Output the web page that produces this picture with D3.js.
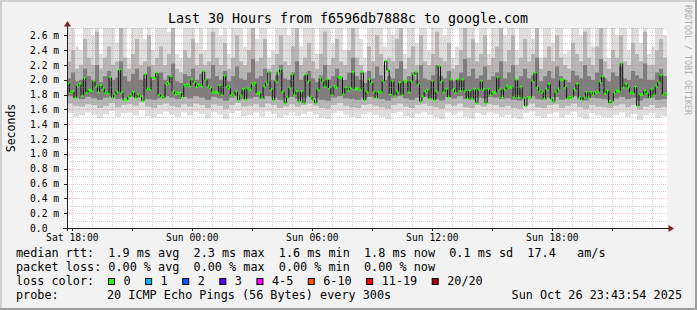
<!DOCTYPE html>
<html>
<head>
<meta charset="utf-8">
<script src="https://cdn.jsdelivr.net/npm/d3@7"></script>
<style>
body { margin: 0; background: #f2f2f2; }
svg text { font-family: 'DejaVu Sans Mono', monospace; white-space: pre; }
</style>
</head>
<body>
<svg id="chart" width="697" height="310"></svg>
<script>
const title = 'Last 30 Hours from f6596db7888c to google.com'
const yLabel = 'Seconds'
const watermark = 'RRDTOOL / TOBI OETIKER'
const timeStart = Date.UTC(2025, 9, 25, 17, 43, 54)
const timeEnd = Date.UTC(2025, 9, 26, 23, 43, 54)
const yTicks = [0.0, 0.2, 0.4, 0.6, 0.8, 1.0, 1.2, 1.4, 1.6, 1.8, 2.0, 2.2, 2.4, 2.6]

// median rtt in ms, one value per step
const medianRtt = [
    1.95, 1.83, 1.84, 1.76, 1.92, 1.94, 1.79, 2.02, 1.83, 1.86, 1.86, 1.98, 1.91, 1.84, 1.92, 1.88, 1.83, 1.82, 2.03, 1.76,
    1.80, 1.84, 2.13, 1.83, 1.73, 1.73, 1.77, 1.79, 1.83, 1.76, 1.80, 1.77, 1.72, 2.07, 1.88, 1.87, 2.03, 2.03, 2.09, 1.80,
    1.77, 1.76, 1.94, 1.96, 2.04, 1.84, 1.81, 1.82, 1.82, 1.77, 1.92, 1.93, 1.92, 2.00, 1.96, 1.91, 1.93, 1.92, 2.11, 2.00,
    1.91, 1.89, 1.84, 1.83, 1.83, 1.92, 1.80, 2.05, 1.91, 1.89, 1.80, 1.79, 1.84, 1.73, 1.79, 1.87, 1.74, 1.88, 1.87, 1.94,
    1.95, 1.82, 1.82,
    1.76, 1.91, 1.96, 2.10, 1.87, 1.73, 1.98, 2.10, 2.14, 1.84, 1.69, 1.76, 1.89, 2.07, 1.80, 1.84, 1.71, 1.84, 1.69, 2.07,
    1.98, 1.77, 1.73, 1.69, 1.87, 2.02, 1.98, 1.91, 2.00, 1.89, 1.80, 1.91, 1.90, 2.03, 2.03, 1.81, 1.89, 1.86, 1.89, 2.10,
    1.88, 1.88, 1.87, 2.10, 1.73, 1.84, 2.00, 1.96, 1.84, 1.76, 1.83, 1.84, 1.98, 2.25, 2.13, 1.81, 1.98, 1.79, 1.84, 1.96,
    1.80, 1.98, 1.98, 1.84, 1.98, 2.07, 2.10, 1.94, 1.71, 1.77, 1.84, 1.86, 1.75, 1.98, 1.73, 1.84, 2.18, 1.98, 1.84,
    1.87, 1.77, 2.00, 1.87, 1.83, 2.00, 1.86, 2.00, 1.85, 1.75, 1.85, 1.75, 1.87, 1.69, 1.87, 1.98, 1.87, 1.69, 1.87, 1.80,
    1.83, 1.83, 2.03, 1.87, 1.77, 1.87, 1.91, 1.90, 1.90, 1.77, 2.00, 1.77, 1.90, 1.75, 1.65, 1.76, 1.76, 1.98, 2.09, 1.90,
    1.85, 1.83, 1.75, 1.87, 1.94, 1.74, 1.71, 1.83, 1.87, 2.00, 2.00, 1.90, 1.75, 1.76, 1.77, 1.87, 1.94, 1.76, 1.73, 1.77,
    1.83, 1.76, 1.83, 1.80, 1.83, 1.84, 1.97, 2.04, 1.82, 1.85, 1.69, 1.71, 1.82, 1.85, 1.85, 2.22, 1.90, 1.94, 1.90, 1.83,
    1.82, 1.90, 1.65, 1.80, 1.80, 1.85, 1.82, 1.76, 1.87, 1.80, 1.91, 1.97, 2.06, 1.80, 1.81
]

// smoke above the median: slowest pings
const smokeMax = [
    2.75, 2.75, 2.45, 2.4, 2.75, 2.75, 2.6, 2.75, 2.35, 2.75, 2.75, 2.75, 2.5, 2.75, 2.75, 2.3, 2.75, 2.75, 2.75, 2.55,
    2.75, 2.4, 2.75, 2.75, 2.75, 2.65, 2.75, 2.35, 2.3, 2.75, 2.75, 2.75, 2.5, 2.75, 2.4, 2.75, 2.75, 2.75, 2.6, 2.75,
    2.35, 2.75, 2.75, 2.75, 2.45, 2.75, 2.75, 2.55, 2.75, 2.75, 2.3, 2.4, 2.75, 2.75, 2.75, 2.6, 2.75, 2.75, 2.45, 2.75,
    2.75, 2.75, 2.35, 2.75, 2.75, 2.75, 2.5, 2.75, 2.75, 2.4, 2.75, 2.75, 2.75, 2.55, 2.3, 2.75, 2.75, 2.75, 2.75, 2.45,
    2.75, 2.6, 2.75, 2.75, 2.35, 2.75, 2.75, 2.5, 2.75, 2.75, 2.4, 2.75, 2.75, 2.75, 2.6, 2.75, 2.3, 2.45, 2.75, 2.75,
    2.75, 2.75, 2.5, 2.75, 2.75, 2.35, 2.75, 2.75, 2.75, 2.6, 2.75, 2.75, 2.4, 2.75, 2.75, 2.75, 2.55, 2.75, 2.3, 2.75,
    2.75, 2.5, 2.75, 2.75, 2.35, 2.4, 2.75, 2.75, 2.6, 2.75, 2.75, 2.45, 2.75, 2.75, 2.75, 2.3, 2.75, 2.6, 2.75, 2.75,
    2.4, 2.75, 2.75, 2.5, 2.75, 2.35, 2.45, 2.75, 2.75, 2.6
]
const smokeP90 = [
    2.25, 2.4, 2.15, 2.2, 2.55, 2.3, 2.2, 2.65, 2.15, 2.3, 2.45, 2.2, 2.25, 2.7, 2.3, 2.15, 2.35, 2.55, 2.2, 2.25,
    2.6, 2.2, 2.3, 2.45, 2.2, 2.35, 2.7, 2.15, 2.1, 2.4, 2.3, 2.55, 2.2, 2.35, 2.2, 2.25, 2.65, 2.3, 2.2, 2.5,
    2.15, 2.3, 2.6, 2.25, 2.2, 2.4, 2.7, 2.25, 2.3, 2.55, 2.15, 2.2, 2.35, 2.6, 2.25, 2.2, 2.45, 2.7, 2.2, 2.3,
    2.5, 2.25, 2.15, 2.35, 2.65, 2.2, 2.3, 2.55, 2.25, 2.2, 2.4, 2.7, 2.3, 2.2, 2.1, 2.45, 2.25, 2.6, 2.35, 2.2,
    2.3, 2.25, 2.55, 2.7, 2.15, 2.3, 2.45, 2.2, 2.6, 2.25, 2.2, 2.35, 2.65, 2.3, 2.25, 2.5, 2.15, 2.2, 2.4, 2.7,
    2.3, 2.55, 2.25, 2.35, 2.6, 2.2, 2.3, 2.45, 2.7, 2.25, 2.4, 2.6, 2.2, 2.3, 2.55, 2.25, 2.35, 2.7, 2.15, 2.3,
    2.45, 2.25, 2.6, 2.3, 2.2, 2.15, 2.5, 2.35, 2.25, 2.65, 2.3, 2.2, 2.45, 2.7, 2.25, 2.15, 2.4, 2.3, 2.6, 2.25,
    2.2, 2.5, 2.35, 2.25, 2.65, 2.2, 2.2, 2.4, 2.55, 2.3
]
const smokeP75 = [
    2.02, 2.1, 1.98, 2.0, 2.15, 2.05, 2.0, 2.2, 1.97, 2.05, 2.12, 2.0, 2.03, 2.25, 2.05, 1.98, 2.08, 2.15, 2.0, 2.02,
    2.18, 2.0, 2.05, 2.1, 2.0, 2.06, 2.22, 1.98, 1.96, 2.08, 2.05, 2.15, 2.0, 2.08, 2.0, 2.02, 2.2, 2.05, 2.0, 2.12,
    1.98, 2.05, 2.18, 2.02, 2.0, 2.1, 2.28, 2.02, 2.05, 2.15, 1.97, 2.0, 2.06, 2.2, 2.02, 2.0, 2.1, 2.25, 2.0, 2.05,
    2.12, 2.02, 1.97, 2.06, 2.2, 2.0, 2.05, 2.15, 2.02, 2.0, 2.1, 2.3, 2.05, 2.0, 1.96, 2.12, 2.02, 2.18, 2.06, 2.0,
    2.05, 2.02, 2.15, 2.25, 1.98, 2.05, 2.1, 2.0, 2.2, 2.02, 2.0, 2.06, 2.2, 2.05, 2.02, 2.12, 1.98, 2.0, 2.1, 2.28,
    2.05, 2.15, 2.02, 2.06, 2.18, 2.0, 2.05, 2.1, 2.25, 2.02, 2.1, 2.2, 2.0, 2.05, 2.15, 2.02, 2.06, 2.3, 1.98, 2.05,
    2.12, 2.02, 2.18, 2.05, 2.0, 1.97, 2.12, 2.06, 2.02, 2.2, 2.05, 2.0, 2.1, 2.28, 2.02, 1.98, 2.1, 2.05, 2.18, 2.02,
    2.0, 2.12, 2.06, 2.02, 2.22, 2.0, 2.0, 2.1, 2.15, 2.05
]
// smoke below the median: fastest pings
const smokeP25 = [
    1.78, 1.76, 1.74, 1.77, 1.75, 1.73, 1.76, 1.78, 1.74, 1.76, 1.77, 1.76, 1.79, 1.74, 1.73, 1.75, 1.78, 1.76, 1.74, 1.77,
    1.75, 1.78, 1.76, 1.73, 1.77, 1.75, 1.72, 1.76, 1.78, 1.74, 1.75, 1.77, 1.74, 1.78, 1.76, 1.73, 1.75, 1.77, 1.74, 1.76,
    1.78, 1.75, 1.73, 1.72, 1.76, 1.78, 1.75, 1.74, 1.73, 1.76, 1.77, 1.75, 1.74, 1.72, 1.76, 1.78, 1.75, 1.73, 1.76, 1.77,
    1.75, 1.74, 1.72, 1.77, 1.75, 1.78, 1.74, 1.73, 1.76, 1.75, 1.77, 1.76, 1.74, 1.75, 1.73, 1.72, 1.76, 1.78, 1.74, 1.73,
    1.76, 1.77, 1.73, 1.75, 1.78, 1.74, 1.72, 1.76, 1.75, 1.74, 1.73, 1.75, 1.77, 1.74, 1.76, 1.72, 1.75, 1.76, 1.73, 1.74
]
const smokeP10 = [
    1.68, 1.65, 1.64, 1.67, 1.66, 1.62, 1.65, 1.69, 1.63, 1.66, 1.67, 1.65, 1.70, 1.64, 1.62, 1.66, 1.68, 1.65, 1.63, 1.67,
    1.64, 1.68, 1.66, 1.62, 1.67, 1.65, 1.61, 1.66, 1.69, 1.64, 1.65, 1.67, 1.63, 1.68, 1.66, 1.62, 1.64, 1.67, 1.64, 1.66,
    1.68, 1.65, 1.62, 1.61, 1.66, 1.69, 1.65, 1.63, 1.62, 1.66, 1.67, 1.65, 1.63, 1.61, 1.66, 1.68, 1.64, 1.62, 1.66, 1.67,
    1.65, 1.63, 1.61, 1.67, 1.65, 1.68, 1.63, 1.62, 1.66, 1.64, 1.67, 1.66, 1.63, 1.65, 1.62, 1.61, 1.66, 1.68, 1.63, 1.62,
    1.66, 1.67, 1.62, 1.65, 1.68, 1.63, 1.61, 1.66, 1.64, 1.63, 1.62, 1.65, 1.67, 1.63, 1.66, 1.60, 1.64, 1.66, 1.62, 1.63
]
const smokeMin = [
    1.55, 1.50, 1.52, 1.56, 1.53, 1.48, 1.54, 1.58, 1.50, 1.55, 1.56, 1.52, 1.59, 1.51, 1.49, 1.54, 1.57, 1.53, 1.50, 1.56,
    1.52, 1.57, 1.54, 1.48, 1.56, 1.53, 1.47, 1.55, 1.58, 1.51, 1.53, 1.56, 1.50, 1.57, 1.54, 1.49, 1.52, 1.56, 1.51, 1.54,
    1.57, 1.53, 1.49, 1.47, 1.55, 1.58, 1.53, 1.50, 1.48, 1.54, 1.56, 1.53, 1.50, 1.47, 1.55, 1.57, 1.51, 1.49, 1.54, 1.56,
    1.53, 1.50, 1.47, 1.56, 1.53, 1.57, 1.50, 1.48, 1.55, 1.52, 1.56, 1.54, 1.50, 1.53, 1.49, 1.47, 1.55, 1.57, 1.51, 1.49,
    1.54, 1.56, 1.49, 1.53, 1.57, 1.50, 1.47, 1.55, 1.52, 1.50, 1.49, 1.53, 1.56, 1.50, 1.54, 1.46, 1.52, 1.55, 1.49, 1.51
]

const legendRtt = 'median rtt:  1.9 ms avg  2.3 ms max  1.6 ms min  1.8 ms now  0.1 ms sd  17.4   am/s'
const legendLoss = 'packet loss: 0.00 % avg  0.00 % max  0.00 % min  0.00 % now'
const lossLabels = ['0', '1', '2', '3', '4-5', '6-10', '11-19', '20/20']
const lossColors = ['#26ff00', '#00b8ff', '#0059ff', '#5e00ff', '#ff00ff', '#ff5500', '#ff0000', '#a10000']
const probeText = '20 ICMP Echo Pings (56 Bytes) every 300s'
const stampText = 'Sun Oct 26 23:43:54 2025'

const svg = d3.select('#chart')
const plotLeft = 67, plotRight = 667, plotTop = 28, plotBottom = 228
const smokeSplit = 1.85

// background and 3d frame
svg.append('rect').attr('width', 697).attr('height', 310).attr('fill', '#f2f2f2')
svg.append('rect').attr('x', 0).attr('y', 0).attr('width', 697).attr('height', 2).attr('fill', '#cfcfcf')
svg.append('rect').attr('x', 0).attr('y', 0).attr('width', 2).attr('height', 310).attr('fill', '#cfcfcf')
svg.append('rect').attr('x', 0).attr('y', 308).attr('width', 697).attr('height', 2).attr('fill', '#9e9e9e')
svg.append('rect').attr('x', 695).attr('y', 0).attr('width', 2).attr('height', 310).attr('fill', '#9e9e9e')

svg.append('rect').attr('x', plotLeft).attr('y', plotTop).attr('width', plotRight - plotLeft).attr('height', plotBottom - plotTop).attr('fill', '#fff')

svg.append('clipPath').attr('id', 'canvasClip')
    .append('rect').attr('x', plotLeft + 1).attr('y', plotTop).attr('width', plotRight - plotLeft - 1).attr('height', plotBottom - plotTop)

const x = d3.scaleUtc().domain([new Date(timeStart), new Date(timeEnd)]).range([plotLeft, plotRight])
const y = d3.scaleLinear().domain([0, 2.7]).range([plotBottom, plotTop])
const xMedian = d3.scaleLinear().domain([0, medianRtt.length]).range([plotLeft, plotRight])

const plot = svg.append('g').attr('clip-path', 'url(#canvasClip)')

function smokeLayer(values, color) {
    const xs = d3.scaleLinear().domain([0, values.length]).range([plotLeft, plotRight])
    plot.append('g').selectAll('rect')
        .data(values)
        .join('rect')
        .attr('x', (d, i) => xs(i))
        .attr('width', (d, i) => xs(i + 1) - xs(i) + 0.05)
        .attr('y', d => Math.min(y(d), y(smokeSplit)))
        .attr('height', d => Math.abs(y(smokeSplit) - y(d)))
        .attr('fill', color)
}
smokeLayer(smokeMax, '#dedede')
smokeLayer(smokeMin, '#dedede')
smokeLayer(smokeP90, '#b6b6b6')
smokeLayer(smokeP10, '#b6b6b6')
smokeLayer(smokeP75, '#7e7e7e')
smokeLayer(smokeP25, '#7e7e7e')

// grid
const minorY = y.ticks(27).filter(v => !yTicks.some(t => Math.abs(t - v) < 1e-6))
const hourTicks = x.ticks(d3.utcHour.every(1))
const majorX = x.ticks(d3.utcHour.every(3))
const minorX = hourTicks.filter(t => t.getUTCHours() % 3 != 0)
const grid = svg.append('g').attr('stroke-dasharray', '1,1').attr('shape-rendering', 'crispEdges')
const minorColor = 'rgba(143,143,143,0.4)'
const majorColor = 'rgba(222,79,79,0.32)'
minorY.forEach(v => {
    grid.append('line').attr('x1', plotLeft).attr('x2', plotRight).attr('y1', Math.round(y(v)) + 0.5).attr('y2', Math.round(y(v)) + 0.5)
        .attr('stroke', minorColor)
})
minorX.forEach(t => {
    grid.append('line').attr('y1', plotTop).attr('y2', plotBottom).attr('x1', Math.round(x(t)) + 0.5).attr('x2', Math.round(x(t)) + 0.5)
        .attr('stroke', minorColor)
})
yTicks.filter(v => v > 0).forEach(v => {
    grid.append('line').attr('x1', plotLeft).attr('x2', plotRight).attr('y1', Math.round(y(v)) + 0.5).attr('y2', Math.round(y(v)) + 0.5)
        .attr('stroke', majorColor)
})
majorX.forEach(t => {
    grid.append('line').attr('y1', plotTop).attr('y2', plotBottom).attr('x1', Math.round(x(t)) + 0.5).attr('x2', Math.round(x(t)) + 0.5)
        .attr('stroke', majorColor)
})

// median: loss-coloured marks joined by dark risers
plot.append('g').selectAll('rect')
    .data(medianRtt)
    .join('rect')
    .attr('x', (d, i) => xMedian(i))
    .attr('width', (d, i) => xMedian(i + 1) - xMedian(i))
    .attr('y', d => y(d) - 1.5)
    .attr('height', 3)
    .attr('fill', lossColors[0])
plot.append('g').selectAll('line')
    .data(medianRtt.slice(1))
    .join('line')
    .attr('x1', (d, i) => xMedian(i + 1))
    .attr('x2', (d, i) => xMedian(i + 1))
    .attr('y1', (d, i) => y(medianRtt[i]))
    .attr('y2', d => y(d))
    .attr('stroke', '#111')
    .attr('stroke-width', 1)

// axes
const axisColor = '#1f1f1f'
svg.append('line').attr('x1', plotLeft + 0.5).attr('x2', plotLeft + 0.5).attr('y1', plotBottom + 3).attr('y2', 25).attr('stroke', axisColor)
svg.append('line').attr('x1', plotLeft - 4).attr('x2', plotRight + 3).attr('y1', plotBottom + 0.5).attr('y2', plotBottom + 0.5).attr('stroke', axisColor)
svg.append('path').attr('d', 'M67.5,21 L64,26.5 L71,26.5 Z').attr('fill', '#801f1f')
svg.append('path').attr('d', 'M674,228.5 L668.5,225 L668.5,232 Z').attr('fill', '#801f1f')

yTicks.forEach(v => {
    svg.append('line').attr('x1', plotLeft - 3).attr('x2', plotLeft).attr('y1', Math.round(y(v)) + 0.5).attr('y2', Math.round(y(v)) + 0.5)
        .attr('stroke', axisColor)
    svg.append('text').attr('x', 30).attr('y', y(v) + 3.5)
        .attr('font-size', '9.7px').attr('fill', '#000')
        .text(v == 0 ? d3.format('.1f')(v) : d3.format('.1f')(v) + ' m')
})
majorX.forEach(t => {
    svg.append('line').attr('y1', plotBottom).attr('y2', plotBottom + 3).attr('x1', Math.round(x(t)) + 0.5).attr('x2', Math.round(x(t)) + 0.5)
        .attr('stroke', axisColor)
})
x.ticks(d3.utcHour.every(6)).forEach(t => {
    svg.append('text').attr('x', x(t)).attr('y', 241)
        .attr('font-size', '9.7px').attr('text-anchor', 'middle')
        .text(d3.utcFormat('%a %H:%M')(t))
})

svg.append('text').attr('x', 348).attr('y', 23).attr('text-anchor', 'middle').attr('font-size', '13.3px').text(title)
svg.append('text').attr('transform', 'translate(14.5,128) rotate(-90)').attr('text-anchor', 'middle')
    .attr('font-size', '11.5px').text(yLabel)
svg.append('text').attr('transform', 'translate(684.5,60) rotate(90)').attr('text-anchor', 'middle')
    .attr('font-size', '8.3px').attr('fill', '#b0b0b0').text(watermark)

// legend
const legendSize = '11.8px'
svg.append('text').attr('x', 16).attr('y', 257).attr('font-size', legendSize).text(legendRtt)
svg.append('text').attr('x', 16).attr('y', 271).attr('font-size', legendSize).text(legendLoss)
svg.append('text').attr('x', 16).attr('y', 285).attr('font-size', legendSize).text('loss color:')
let swatchX = 108
lossLabels.forEach((label, i) => {
    svg.append('rect').attr('x', swatchX + 0.5).attr('y', 278.5).attr('width', 6).attr('height', 6)
        .attr('fill', lossColors[i]).attr('stroke', '#000')
    const t = svg.append('text').attr('x', swatchX + 15.5).attr('y', 285).attr('font-size', legendSize).text(label)
    swatchX += 15.5 + t.node().getComputedTextLength() + 14.5
})
svg.append('text').attr('x', 16).attr('y', 299).attr('font-size', legendSize).text('probe:')
svg.append('text').attr('x', 107).attr('y', 299).attr('font-size', legendSize).text(probeText)
svg.append('text').attr('x', 682).attr('y', 299).attr('text-anchor', 'end').attr('font-size', legendSize).text(stampText)
</script>
</body>
</html>
